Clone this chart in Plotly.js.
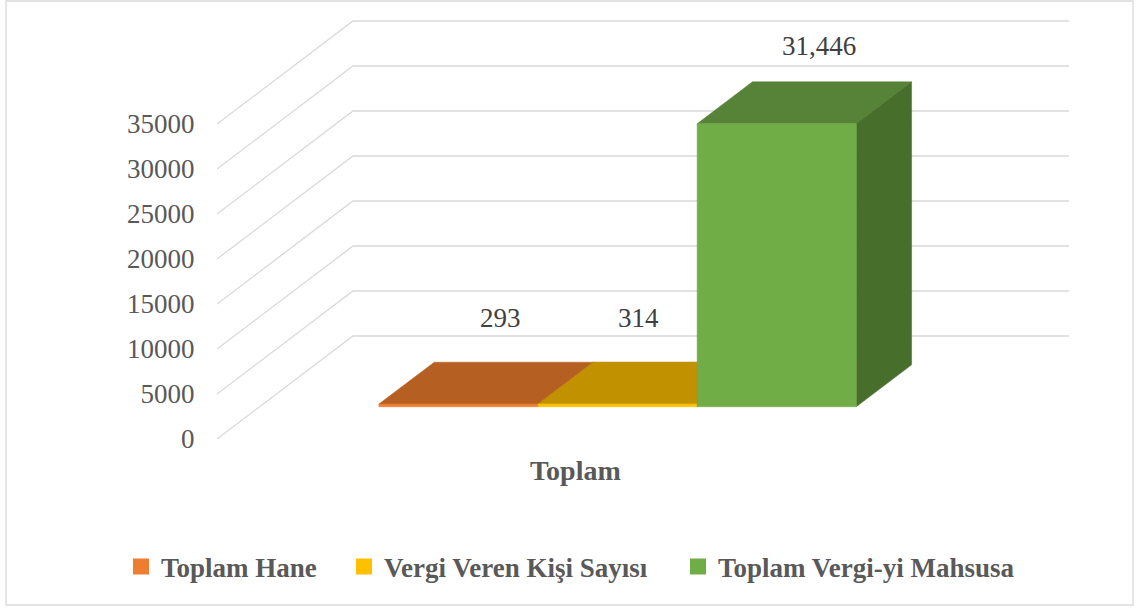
<!DOCTYPE html>
<html><head><meta charset="utf-8">
<script src="https://cdn.plot.ly/plotly-3.0.1.min.js"></script>
<style>html,body{margin:0;padding:0;background:#fff}#chart{width:1136px;height:608px}</style>
</head><body><div id="chart"></div>
<script>
// ---- data ----
const categories = ['Toplam'];
const seriesNames = ['Toplam Hane', 'Vergi Veren Kişi Sayısı', 'Toplam Vergi-yi Mahsusa'];
const seriesValues = [293, 314, 31446];
const yTickValues = [0, 5000, 10000, 15000, 20000, 25000, 30000, 35000];

// ---- styles ----
const frontColors = ['#ed7d31', '#ffc000', '#70ad47'];
const topColors = ['#b65f23', '#c29100', '#568337'];
const sideColors = ['#9e521e', '#a37b00', '#486e2c'];
const labelDx = [14, -7, 15];
const labelDy = [65, 65, 57];

// ---- geometry (pixel-based x axis, value-based y axis) ----
const PX_PER_UNIT = 315 / 35000;
const PLOT_W = 852, PLOT_H = 419;
const FLOOR_W = 716;
const DEPTH_DX = 136, DEPTH_DY = 103 / PX_PER_UNIT;
const GAP = 1.5;
const T0 = 0.313, T1 = 0.72;
const nS = seriesValues.length;
const bw = FLOOR_W / (nS + GAP);

function P(x, v, t) { return [x + t * DEPTH_DX, v + t * DEPTH_DY]; }
function polyTrace(pts, color) {
  const xs = pts.map(p => p[0]); const ys = pts.map(p => p[1]);
  xs.push(pts[0][0]); ys.push(pts[0][1]);
  return { type: 'scatter', mode: 'lines', x: xs, y: ys, fill: 'toself', fillcolor: color,
    line: { color: color, width: 0.5 }, hoverinfo: 'skip', showlegend: false };
}

const traces = [];
// gridlines: front-left edge -> back wall
const gx = [], gy = [];
yTickValues.forEach(v => {
  const a = P(0, v, 0), b = P(0, v, 1);
  gx.push(a[0], b[0], PLOT_W, null); gy.push(a[1], b[1], b[1], null);
});
traces.push({ type: 'scatter', mode: 'lines', x: gx, y: gy, line: { color: '#d9d9d9', width: 1.3 },
  hoverinfo: 'skip', showlegend: false });

const annotations = [];
seriesValues.forEach((v, i) => {
  const xl = (GAP / 2 + i) * bw, xr = xl + bw;
  traces.push(polyTrace([P(xl, v, T0), P(xr, v, T0), P(xr, v, T1), P(xl, v, T1)], topColors[i]));
  traces.push(polyTrace([P(xr, 0, T0), P(xr, 0, T1), P(xr, v, T1), P(xr, v, T0)], sideColors[i]));
  traces.push(polyTrace([P(xl, 0, T0), P(xr, 0, T0), P(xr, v, T0), P(xl, v, T0)], frontColors[i]));
  const m = P((xl + xr) / 2, v, (T0 + T1) / 2);
  annotations.push({ x: m[0], y: m[1], xref: 'x', yref: 'y', text: v.toLocaleString('en-US'),
    showarrow: false, xshift: labelDx[i], yshift: labelDy[i], xanchor: 'center', yanchor: 'middle',
    font: { family: 'Liberation Serif', size: 27, color: '#404040' } });
});

// legend entries
const legendIds = ['legend', 'legend2', 'legend3'];
seriesNames.forEach((name, i) => {
  traces.push({ type: 'scatter', mode: 'markers', x: [null], y: [null], name: name,
    marker: { symbol: 'square', size: 16, color: frontColors[i] }, legend: legendIds[i], showlegend: true });
});

// category label
annotations.push({ x: FLOOR_W / 2, y: 0, xref: 'x', yref: 'paper', text: '<b>' + categories[0] + '</b>',
  showarrow: false, yshift: -31, yanchor: 'middle', xanchor: 'center',
  font: { family: 'Liberation Serif', size: 28, color: '#595959' } });

const ML = 217, MT = 20;
const toPX = px => (px - ML) / PLOT_W;
const toPY = py => (MT + PLOT_H - py) / PLOT_H;
const legendFont = { family: 'Liberation Serif', size: 27, color: '#595959', weight: 'bold' };
const legendLefts = [121, 344, 678];
function mkLegend(i) {
  return { x: toPX(legendLefts[i]), y: toPY(567), xanchor: 'left', yanchor: 'middle', orientation: 'h',
    font: legendFont, bgcolor: 'rgba(0,0,0,0)', borderwidth: 0, itemclick: false, itemdoubleclick: false };
}

const layout = {
  width: 1136, height: 608,
  margin: { l: ML, r: 1136 - ML - PLOT_W, t: MT, b: 608 - MT - PLOT_H, pad: 0 },
  paper_bgcolor: '#ffffff', plot_bgcolor: 'rgba(0,0,0,0)',
  showlegend: true,
  xaxis: { range: [0, PLOT_W], visible: false, fixedrange: true },
  yaxis: { range: [0, PLOT_H / PX_PER_UNIT], tickvals: yTickValues, ticktext: yTickValues.map(String),
    showgrid: false, zeroline: false, showline: false, ticks: 'outside', ticklen: 16,
    tickcolor: 'rgba(0,0,0,0)', tickfont: { family: 'Liberation Serif', size: 27, color: '#595959' },
    fixedrange: true },
  legend: mkLegend(0), legend2: mkLegend(1), legend3: mkLegend(2),
  annotations: annotations,
  shapes: [{ type: 'rect', xref: 'paper', yref: 'paper', x0: toPX(6), x1: toPX(1133), y0: toPY(605), y1: toPY(1),
    line: { color: '#d9d9d9', width: 1.3 }, fillcolor: 'rgba(0,0,0,0)', layer: 'below' }],
  hovermode: false
};

Plotly.newPlot('chart', traces, layout, { displayModeBar: false, staticPlot: true });
</script>
</body></html>
